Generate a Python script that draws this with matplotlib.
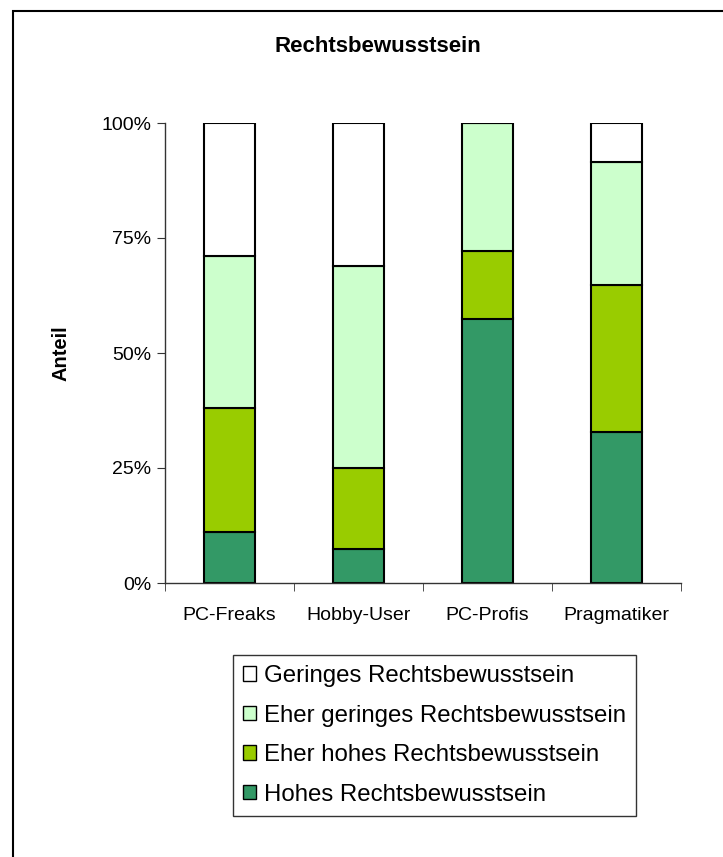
import matplotlib.pyplot as plt
import matplotlib.patches as patches
import numpy as np

plt.rcParams['font.family'] = ['Liberation Sans', 'DejaVu Sans']

# Daten (Anteile in %)
categories = ['PC-Freaks', 'Hobby-User', 'PC-Profis', 'Pragmatiker']
hohes = [11.0, 7.5, 57.5, 32.8]
eher_hohes = [27.0, 17.5, 14.7, 32.0]
eher_geringes = [33.0, 44.0, 27.8, 26.8]
geringes = [29.0, 31.0, 0.0, 8.4]

series = [
    ('Hohes Rechtsbewusstsein', hohes, '#339966'),
    ('Eher hohes Rechtsbewusstsein', eher_hohes, '#99CC00'),
    ('Eher geringes Rechtsbewusstsein', eher_geringes, '#CCFFCC'),
    ('Geringes Rechtsbewusstsein', geringes, '#FFFFFF'),
]

W, H = 723, 857
fig = plt.figure(figsize=(W / 100, H / 100), dpi=100)
ax = fig.add_axes([165 / W, 1 - 583 / H, (681 - 165) / W, (583 - 123) / H])

x = np.arange(len(categories))
bottom = np.zeros(len(categories))
handles = []
for name, vals, color in series:
    b = ax.bar(x, vals, 0.4, bottom=bottom, color=color, edgecolor='black',
               linewidth=1.5, label=name)
    bottom += np.array(vals)
    handles.append(b)

ax.set_xlim(-0.5, len(categories) - 0.5)
ax.set_ylim(0, 100)
ax.set_yticks([0, 25, 50, 75, 100])
ax.set_yticklabels(['0%', '25%', '50%', '75%', '100%'], fontsize=14)
ax.set_xticks(x)
ax.set_xticklabels(categories, fontsize=14)
ax.set_xticks(np.arange(len(categories) + 1) - 0.5, minor=True)
ax.tick_params(axis='x', which='major', length=0, pad=17)
ax.tick_params(axis='x', which='minor', length=6, direction='out', color='#333333')
ax.tick_params(axis='y', length=6, direction='out', color='#333333', pad=4)

for s in ['top', 'right']:
    ax.spines[s].set_visible(False)
for s in ['left', 'bottom']:
    ax.spines[s].set_color('#333333')
    ax.spines[s].set_linewidth(1.0)

ax.set_ylabel('Anteil', fontsize=14.5, fontweight='bold', labelpad=22)
fig.text(378 / W, 1 - 47 / H, 'Rechtsbewusstsein', fontsize=16, fontweight='bold',
         ha='center', va='center')

leg = fig.legend(handles[::-1], [s[0] for s in series][::-1],
                 loc='upper left', bbox_to_anchor=(233 / W, 1 - 655 / H),
                 fontsize=17.3, frameon=True, fancybox=False, borderaxespad=0,
                 handlelength=0.55, handleheight=0.55, handletextpad=0.3,
                 labelspacing=0.73, borderpad=0.42)
leg.get_frame().set_edgecolor('black')
leg.get_frame().set_linewidth(1.0)
for h in leg.legend_handles:
    h.set_linewidth(1.0)

# Rahmen um das Diagramm (rechts/unten abgeschnitten)
fig.patches.append(patches.Rectangle((13 / W, -0.1), 1.2, 1 - 11 / H + 0.1,
                                     transform=fig.transFigure, fill=False,
                                     edgecolor='black', linewidth=1.5))

fig.savefig('out.png', dpi=100, facecolor='white')
